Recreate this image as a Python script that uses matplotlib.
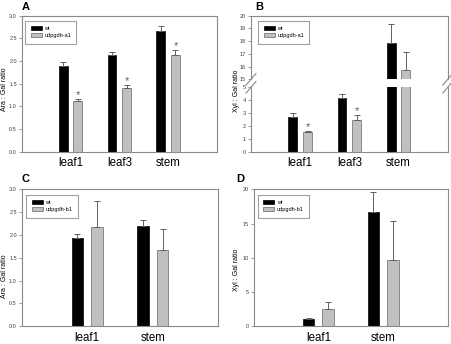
import matplotlib
matplotlib.use("Agg")
import matplotlib.pyplot as plt
import numpy as np

plt.rcParams['font.family'] = ['Liberation Sans', 'DejaVu Sans']

# ---- data ----
cats_AB = ['leaf1', 'leaf3', 'stem']
cats_CD = ['leaf1', 'stem']

A_wt = [1.88, 2.13, 2.67]
A_wt_err = [0.10, 0.06, 0.11]
A_mut = [1.11, 1.40, 2.13]
A_mut_err = [0.06, 0.08, 0.11]
A_star = [True, True, True]

B_wt = [2.73, 4.18, 17.83]
B_wt_err = [0.27, 0.29, 1.50]
B_mut = [1.50, 2.49, 15.74]
B_mut_err = [0.10, 0.35, 1.40]
B_star = [True, True, False]

C_wt = [1.93, 2.19]
C_wt_err = [0.09, 0.13]
C_mut = [2.18, 1.66]
C_mut_err = [0.56, 0.46]

D_wt = [1.07, 16.70]
D_wt_err = [0.12, 2.90]
D_mut = [2.48, 9.63]
D_mut_err = [1.00, 5.75]

label_wt = 'wt'
label_a1 = 'udpgdh-a1'
label_b1 = 'udpgdh-b1'
ylab_ara = 'Ara : Gal ratio'
ylab_xyl = 'Xyl : Gal ratio'

W, H = 452, 344
fig = plt.figure(figsize=(W / 100, H / 100), dpi=100)

SPINE = '#8a8a8a'
GRAY = '#c0c0c0'
EDGE = '#7a7a7a'
ERR = '#606060'
BW = 0.18
OFF = 0.15


def px_axes(l, r, t, b):
    return fig.add_axes([l / W, 1 - b / H, (r - l) / W, (b - t) / H])


def style(ax, cats):
    for s in ax.spines.values():
        s.set_color(SPINE)
        s.set_linewidth(0.8)
    ax.tick_params(axis='y', direction='out', length=2, width=0.6, color=SPINE,
                   labelsize=4, labelcolor='#404040', pad=1.5)
    ax.tick_params(axis='x', length=0, labelsize=8.3, pad=4)
    ax.set_xticks(np.arange(1, len(cats) + 1))
    ax.set_xticklabels(cats)
    ax.set_xlim(0, len(cats) + 1)


def bars(ax, wt, wte, mut, mute, lab_mut):
    x = np.arange(1, len(wt) + 1)
    ax.bar(x - OFF, wt, BW, color='black', edgecolor='black', linewidth=0.5,
           label=label_wt, zorder=2)
    ax.bar(x + OFF, mut, BW, color=GRAY, edgecolor=EDGE, linewidth=0.6,
           label=lab_mut, zorder=2)
    ax.errorbar(x - OFF, wt, yerr=[np.zeros(len(wt)), wte], fmt='none',
                ecolor=ERR, elinewidth=0.7, capsize=2.5, capthick=0.7, zorder=3)
    ax.errorbar(x + OFF, mut, yerr=[np.zeros(len(mut)), mute], fmt='none',
                ecolor=ERR, elinewidth=0.7, capsize=2.5, capthick=0.7, zorder=3)


def legend(ax, lx, ty):
    ax.legend(loc='upper left', bbox_to_anchor=(lx / W, 1 - ty / H),
              bbox_transform=fig.transFigure, fontsize=4, frameon=True,
              fancybox=False, edgecolor=SPINE, borderpad=1.0,
              handlelength=2.0, handleheight=0.7, labelspacing=0.35,
              handletextpad=0.45, borderaxespad=0).get_frame().set_linewidth(0.8)


def ylab(text, x, y):
    fig.text(x / W, 1 - y / H, text, rotation=90, fontsize=5,
             ha='center', va='center')


# ---- Panel A ----
axA = px_axes(21.7, 217, 15.7, 151.7)
bars(axA, A_wt, A_wt_err, A_mut, A_mut_err, label_a1)
style(axA, cats_AB)
axA.set_ylim(0, 3.0)
axA.set_yticks(np.arange(0, 3.01, 0.5))
axA.set_yticklabels([f'{v:.1f}' for v in np.arange(0, 3.01, 0.5)])
ylab(ylab_ara, 4.5, 89)
for i, (m, e, s) in enumerate(zip(A_mut, A_mut_err, A_star)):
    if s:
        axA.text(i + 1 + OFF, m + e - 0.03, '*', ha='center', va='bottom',
                 fontsize=8, color='#606060', zorder=4)
legend(axA, 25, 20.7)

# ---- Panel B (broken axis) ----
axBu = px_axes(251, 447.7, 15.7, 79.3)
axBl = px_axes(251, 447.7, 87.3, 151.7)
for ax in (axBu, axBl):
    bars(ax, B_wt, B_wt_err, B_mut, B_mut_err, label_a1)
    style(ax, cats_AB)
axBu.set_ylim(15, 20)
axBu.set_yticks(range(15, 21))
axBl.set_ylim(0, 5)
axBl.set_yticks(range(0, 6))
axBu.spines['bottom'].set_visible(False)
axBl.spines['top'].set_visible(False)
axBu.tick_params(axis='x', labelbottom=False)
for i, (m, e, s) in enumerate(zip(B_mut, B_mut_err, B_star)):
    if s:
        axBl.text(i + 1 + OFF, m + e - 0.1, '*', ha='center', va='bottom',
                  fontsize=8, color='#606060', zorder=4)
# break marks
dx, dy = 0.025, 0.09
for ax, y0 in ((axBu, 0.0), (axBl, 1.0)):
    for x0 in (0.0, 1.0):
        ax.plot([x0 - dx, x0 + dx], [y0 - dy, y0 + dy], transform=ax.transAxes,
                color=SPINE, lw=0.8, clip_on=False)
ylab(ylab_xyl, 236, 91)
legend(axBu, 258, 20.7)

# ---- Panel C ----
axC = px_axes(21.7, 218.3, 189.3, 326.3)
bars(axC, C_wt, C_wt_err, C_mut, C_mut_err, label_b1)
style(axC, cats_CD)
axC.set_ylim(0, 3.0)
axC.set_yticks(np.arange(0, 3.01, 0.5))
axC.set_yticklabels([f'{v:.1f}' for v in np.arange(0, 3.01, 0.5)])
ylab(ylab_ara, 4.5, 276)
legend(axC, 26, 194.7)

# ---- Panel D ----
axD = px_axes(253.7, 447.7, 189.3, 326.3)
bars(axD, D_wt, D_wt_err, D_mut, D_mut_err, label_b1)
style(axD, cats_CD)
axD.set_ylim(0, 20)
axD.set_yticks(range(0, 21, 5))
ylab(ylab_xyl, 236, 269.5)
legend(axD, 257.7, 194.7)

# ---- panel letters ----
for lab, x, y in (('A', 22, 9.5), ('B', 255, 9.5), ('C', 21.7, 181.5), ('D', 236, 181.5)):
    fig.text(x / W, 1 - y / H, lab, fontsize=8, fontweight='bold',
             ha='left', va='baseline')

fig.savefig('out.png', dpi=100)
